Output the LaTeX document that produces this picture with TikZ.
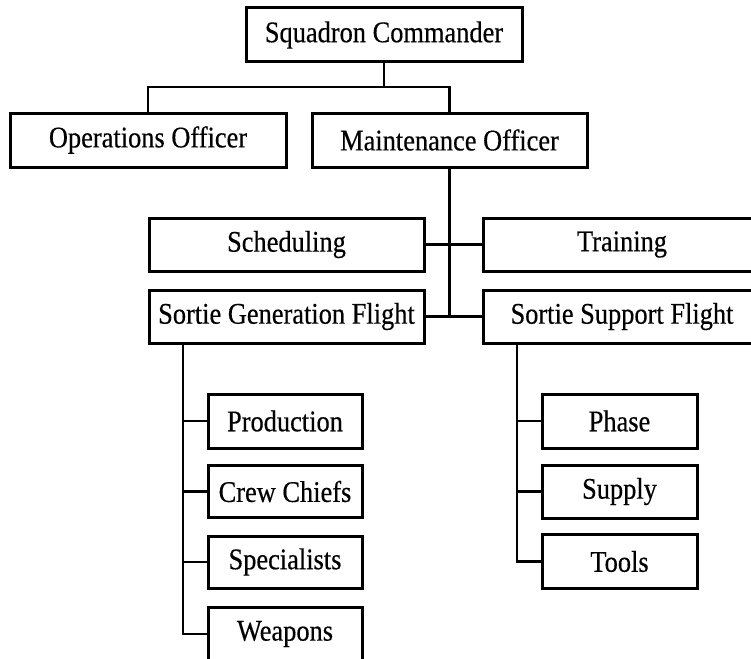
\documentclass[tikz,border=0pt]{standalone}
\usepackage{fontspec}
\setmainfont{Liberation Serif}[FakeStretch=0.88,FakeBold=0.4]
\begin{document}
\begin{tikzpicture}[x=1pt,y=-1pt,
  box/.style={draw=black,line width=3pt,rectangle,inner sep=0pt,
    minimum height=54pt,font=\fontsize{30}{36}\selectfont,anchor=center},
  wide/.style={box,minimum width=276pt},
  small/.style={box,minimum width=154pt},
  link/.style={draw=black,line width=2.8pt}]
\useasboundingbox (0,0) rectangle (751,658);
\fill[white] (0,0) rectangle (751,658);
\clip (0,0) rectangle (751,658);
% top levels
\node[wide] (sq) at (384,35) {Squadron Commander};
\node[wide] (ops) at (148,140) {Operations Officer};
\node[wide,minimum width=275pt] (mnt) at (449.5,140) {Maintenance Officer};
\node[wide,minimum width=275pt,minimum height=53pt] (sch) at (286.5,244.5) {Scheduling};
\node[wide,minimum width=278pt,minimum height=53pt] (trn) at (622,244.5) {Training};
\node[wide,minimum width=275pt,minimum height=53pt] (sgf) at (286.5,316.5) {Sortie Generation Flight};
\node[wide,minimum width=278pt,minimum height=53pt] (ssf) at (622,316.5) {Sortie Support Flight};
% left subtree
\node[small] (prod) at (285,421) {Production};
\node[small,minimum height=52pt] (crew) at (285,491.5) {Crew Chiefs};
\node[small,minimum height=52pt] (spec) at (285,562) {Specialists};
\node[small] (weap) at (285,634) {Weapons};
% right subtree
\node[small,minimum width=155pt] (phase) at (619.5,421) {Phase};
\node[small,minimum width=155pt,minimum height=53pt] (supply) at (619.5,491.5) {Supply};
\node[small,minimum width=155pt] (tools) at (619.5,561.5) {Tools};
% bus coordinates
\coordinate (bus) at (0,87);
\coordinate (lv) at (183,0);
\coordinate (rv) at (517,0);
% connectors
\draw[link] (sq.south) -- (sq.south |- bus);
\draw[link] (ops.north) |- (mnt.north |- bus) -- (mnt.north);
\draw[link] (mnt.south) -- (mnt.south |- sgf.east);
\draw[link] (sch.east) -- (trn.west);
\draw[link] (sgf.east) -- (ssf.west);
\draw[link] (sgf.south -| lv) |- (weap.west);
\draw[link] (prod.west) -- (prod.west -| lv);
\draw[link] (crew.west) -- (crew.west -| lv);
\draw[link] (spec.west) -- (spec.west -| lv);
\draw[link] (ssf.south -| rv) |- (tools.west);
\draw[link] (phase.west) -- (phase.west -| rv);
\draw[link] (supply.west) -- (supply.west -| rv);
\end{tikzpicture}
\end{document}
